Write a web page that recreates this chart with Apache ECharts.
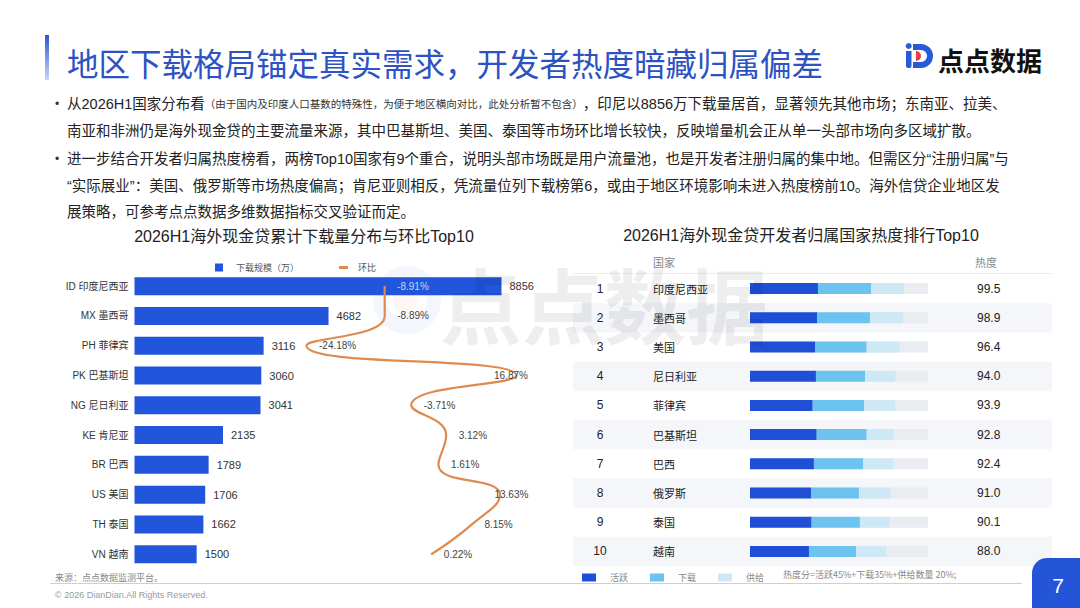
<!DOCTYPE html>
<html>
<head>
<meta charset="utf-8">
<script src="https://cdn.jsdelivr.net/npm/echarts@6/dist/echarts.min.js"></script>
<style>
html,body{margin:0;padding:0;background:#fff;}
#main{width:1080px;height:608px;}
</style>
</head>
<body>
<div id="main"></div>
<script>
// ---- data ----
const leftCategories = ['ID 印度尼西亚','MX 墨西哥','PH 菲律宾','PK 巴基斯坦','NG 尼日利亚','KE 肯尼亚','BR 巴西','US 美国','TH 泰国','VN 越南'];
const downloads = [8856,4682,3116,3060,3041,2135,1789,1706,1662,1500];
const momChange = [-8.91,-8.89,-24.18,16.87,-3.71,3.12,1.61,13.63,8.15,0.22];

const heatRanks = ['1','2','3','4','5','6','7','8','9','10'];
const heatCountries = ['印度尼西亚','墨西哥','美国','尼日利亚','菲律宾','巴基斯坦','巴西','俄罗斯','泰国','越南'];
const heatScores = [99.5,98.9,96.4,94.0,93.9,92.8,92.4,91.0,90.1,88.0];
const activeScore = [43.9,43.5,42.0,42.6,40.5,43.1,41.3,39.4,39.8,38.1];
const downloadScore = [34.4,34.0,33.4,31.7,33.2,32.3,31.9,31.0,31.2,30.4];
const supplyScore = [21.2,21.4,21.0,19.7,20.2,17.4,19.2,20.6,19.1,19.5];
const heatBarMax = 115;

const FF = '"Liberation Sans","Noto Sans CJK SC",sans-serif';
const CJK = '"Noto Sans CJK SC","Liberation Sans",sans-serif';

const chart = echarts.init(document.getElementById('main'), null, {renderer:'svg'});

function txt(x, y, text, opt) {
  return {
    type: 'text', x: x, y: y, z: 10,
    style: Object.assign({text: text, fontSize: 15, fontFamily: FF, fill: '#222', align: 'left', verticalAlign: 'middle'}, opt || {})
  };
}

const bulletRich = {
  n: {fontSize: 14.5, fontFamily: FF, fill: '#222', color: '#222'},
  s: {fontSize: 10.5, fontFamily: FF, fill: '#333', color: '#333'}
};
const bulletLines = [
  '{n|从2026H1国家分布看}{s|（由于国内及印度人口基数的特殊性，为便于地区横向对比，此处分析暂不包含）}{n|，印尼以8856万下载量居首，显著领先其他市场；东南亚、拉美、}',
  '{n|南亚和非洲仍是海外现金贷的主要流量来源，其中巴基斯坦、美国、泰国等市场环比增长较快，反映增量机会正从单一头部市场向多区域扩散。}',
  '{n|进一步结合开发者归属热度榜看，两榜Top10国家有9个重合，说明头部市场既是用户流量池，也是开发者注册归属的集中地。但需区分“注册归属”与}',
  '{n|“实际展业”：美国、俄罗斯等市场热度偏高；肯尼亚则相反，凭流量位列下载榜第6，或由于地区环境影响未进入热度榜前10。海外信贷企业地区发}',
  '{n|展策略，可参考点点数据多维数据指标交叉验证而定。}'
];
const bulletY = [104, 131, 159, 186, 212];

const graphics = [
  // accent bar
  {type:'rect', shape:{x:45, y:35, width:4, height:45}, z:10,
   style:{fill:new echarts.graphic.LinearGradient(0,0,0,1,[{offset:0,color:'#2b57d6'},{offset:1,color:'#c9d5f5'}])}},
  txt(67, 62, '地区下载格局锚定真实需求，开发者热度暗藏归属偏差', {fontSize:31.5, fontFamily:CJK, fill:'#2c52c4'}),
  // logo icon ("iD" mark)
  {type:'rect', shape:{x:906, y:51, width:5.5, height:17, r:[0,0,2,2]}, z:10, style:{fill:'#2a5bd7'}},
  {type:'circle', shape:{cx:908.7, cy:46, r:3}, z:10, style:{fill:'#2a5bd7'}},
  {type:'rect', shape:{x:913, y:44, width:8.5, height:6}, z:10, style:{fill:'#2a5bd7'}},
  {type:'rect', shape:{x:913, y:62, width:8.5, height:6}, z:10, style:{fill:'#2a5bd7'}},
  {type:'sector', z:10, shape:{cx:921, cy:56, r:12, r0:6, startAngle:-Math.PI/2, endAngle:Math.PI/2, clockwise:true}, style:{fill:'#2a5bd7'}},
  {type:'sector', z:11, shape:{cx:916, cy:56, r:5, r0:0, startAngle:-Math.PI/2, endAngle:Math.PI/2, clockwise:true}, style:{fill:'#e8413c'}},
  txt(938, 59, '点点数据', {fontSize:26, fontWeight:'bold', fontFamily:CJK, fill:'#111'}),
  // watermark
  {type:'ring', shape:{cx:407, cy:300, r:34, r0:20}, z:0, style:{fill:'rgba(60,100,230,0.06)'}},
  {type:'circle', shape:{cx:405, cy:302, r:12}, z:0, style:{fill:'rgba(230,80,80,0.06)'}},
  txt(440, 302, '点点数据', {fontSize:82, fontWeight:'bold', fontFamily:CJK, fill:'rgba(0,0,0,0.065)'}),
  // right table header
  txt(653, 262, '国家', {fontSize:11, fontFamily:CJK, fill:'#888'}),
  txt(975, 262, '热度', {fontSize:11, fontFamily:CJK, fill:'#888'}),
  {type:'line', shape:{x1:573, y1:273.5, x2:1052, y2:273.5}, z:5, style:{stroke:'#eceef2', lineWidth:1}},
  // right legend formula
  txt(783, 574, '热度分=活跃45%+下载35%+供给数量 20%;', {fontSize:9, fontFamily:CJK, fill:'#888'}),
  // footer
  {type:'line', shape:{x1:50, y1:583.5, x2:1022, y2:583.5}, z:5, style:{stroke:'#cfcfcf', lineWidth:1}},
  txt(55, 577, '来源：点点数据监测平台。', {fontSize:9, fontFamily:CJK, fill:'#888'}),
  txt(55, 595, '© 2026 DianDian.All Rights Reserved.', {fontSize:9, fill:'#999'}),
  // page number
  {type:'rect', shape:{x:1032, y:558, width:48, height:50, r:[15,0,0,0]}, z:10, style:{fill:'#2455d9'}},
  txt(1058, 585, '7', {fontSize:21, fill:'#fff', align:'center'})
];
bulletLines.forEach(function(line, i){
  if (i === 0 || i === 2) graphics.push(txt(55, bulletY[i], '•', {fontSize:12, fill:'#333'}));
  graphics.push({type:'text', x:67, y:bulletY[i], z:10,
    style:{text: line, rich: bulletRich, align:'left', verticalAlign:'middle', fontSize:14.5, fontFamily:FF, fill:'#222'}});
});

const noLine = {axisLine:{show:false}, axisTick:{show:false}};

const option = {
  animation: false,
  backgroundColor: '#fff',
  textStyle: {fontFamily: FF},
  title: [
    {text:'2026H1海外现金贷累计下载量分布与环比Top10', left:304, top:228, textAlign:'center', padding:0,
     textStyle:{fontSize:16, fontWeight:'normal', color:'#222', fontFamily:FF}},
    {text:'2026H1海外现金贷开发者归属国家热度排行Top10', left:801, top:227, textAlign:'center', padding:0,
     textStyle:{fontSize:16, fontWeight:'normal', color:'#222', fontFamily:FF}}
  ],
  legend: [
    {left:210, top:258, itemWidth:8, itemHeight:8, data:[{name:'下载规模（万）', icon:'rect'}], selectedMode:false,
     textStyle:{fontSize:9, color:'#555', padding:[0,0,0,8]}},
    {left:334, top:258, itemWidth:9, itemHeight:3, data:[{name:'环比', icon:'rect'}], selectedMode:false,
     textStyle:{fontSize:9, color:'#555', padding:[0,0,0,5]}},
    {left:577, top:568, itemWidth:14, itemHeight:8, itemGap:22, data:[{name:'活跃',icon:'rect'},{name:'下载',icon:'rect'},{name:'供给',icon:'rect'}], selectedMode:false,
     textStyle:{fontSize:9, color:'#888', padding:[0,0,0,9]}}
  ],
  grid: [
    {left:134.5, top:271.3, width:414.4, height:297.8},
    {left:573, top:274, width:479, height:292},
    {left:750, top:274, width:178, height:292}
  ],
  xAxis: [
    {type:'value', gridIndex:0, min:0, max:10000, show:false},
    {type:'value', gridIndex:0, min:-57.8, max:23.2, show:false},
    {type:'value', gridIndex:1, min:0, max:1, show:false},
    {type:'value', gridIndex:2, min:0, max:heatBarMax, show:false}
  ],
  yAxis: [
    Object.assign({type:'category', gridIndex:0, inverse:true, data:leftCategories,
     axisLabel:{fontSize:10, color:'#333', margin:6, fontFamily:FF}}, noLine),
    Object.assign({type:'category', gridIndex:1, inverse:true, data:heatCountries, axisLabel:{show:false},
     splitArea:{show:true, interval:0, areaStyle:{color:['rgba(255,255,255,0)','#f4f6f9']}}}, noLine),
    Object.assign({type:'category', gridIndex:2, inverse:true, data:heatCountries,
     axisLabel:{margin:97, interval:0, align:'left', fontSize:11, color:'#222', fontFamily:CJK}}, noLine),
    Object.assign({type:'category', gridIndex:2, inverse:true, position:'right', data:heatScores.map(function(s){return s.toFixed(1);}),
     axisLabel:{margin:49, interval:0, align:'left', fontSize:12, color:'#222', fontFamily:FF}}, noLine),
    Object.assign({type:'category', gridIndex:2, inverse:true, position:'left', offset:0, data:heatRanks,
     axisLabel:{margin:150, interval:0, align:'center', fontSize:12, color:'#222', fontFamily:FF}}, noLine)
  ],
  series: [
    {name:'下载规模（万）', type:'bar', xAxisIndex:0, yAxisIndex:0, data:downloads, barWidth:18, z:3,
     itemStyle:{color:'#2155dc'},
     label:{show:true, position:'right', distance:8, fontSize:11, color:'#333', fontFamily:FF}},
    {name:'环比', type:'line', xAxisIndex:1, yAxisIndex:0, smooth:0.5, z:4,
     symbol:'circle', symbolSize:1, showSymbol:true,
     lineStyle:{color:'#df8a4e', width:2.2}, itemStyle:{color:'#df8a4e'},
     data: momChange.map(function(v, i){
       var item = {value:v};
       if (i === 0) item.label = {color:'#c6d4fa'};
       if (i === 3) item.label = {offset:[-35, 0]};
       if (i === 7) item.label = {offset:[-18, 0]};
       return item;
     }),
     label:{show:true, position:'right', distance:12, fontSize:10, color:'#444', fontFamily:FF,
       formatter:function(p){ return p.value.toFixed(2) + '%'; }}},
    {name:'bg', type:'bar', xAxisIndex:3, yAxisIndex:2, data:heatScores.map(function(){return heatBarMax;}),
     barWidth:11, barGap:'-100%', itemStyle:{color:'#e9ecf0'}, silent:true, z:2},
    {name:'活跃', type:'bar', stack:'heat', xAxisIndex:3, yAxisIndex:2, data:activeScore, barWidth:11, barGap:'-100%', itemStyle:{color:'#1f4fd6'}, z:3},
    {name:'下载', type:'bar', stack:'heat', xAxisIndex:3, yAxisIndex:2, data:downloadScore, barWidth:11, barGap:'-100%', itemStyle:{color:'#6cc3ef'}, z:3},
    {name:'供给', type:'bar', stack:'heat', xAxisIndex:3, yAxisIndex:2, data:supplyScore, barWidth:11, barGap:'-100%', itemStyle:{color:'#cfe8f6'}, z:3}
  ],
  graphic: graphics
};
chart.setOption(option);
</script>
</body>
</html>
